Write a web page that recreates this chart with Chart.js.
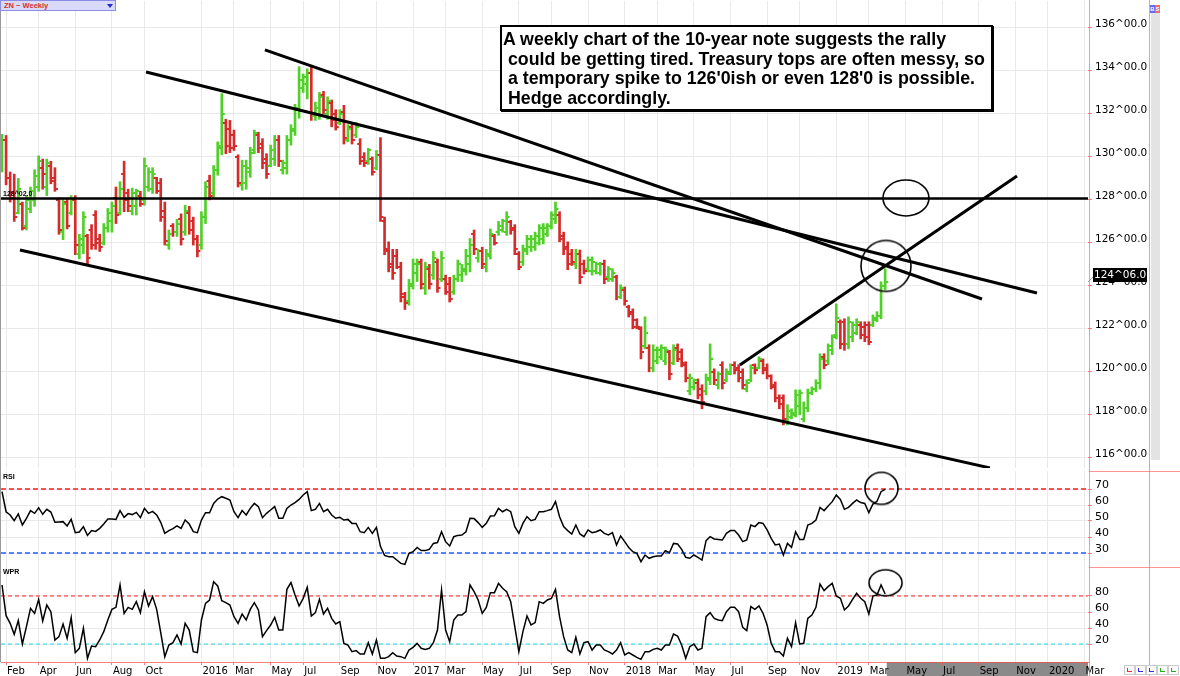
<!DOCTYPE html>
<html>
<head>
<meta charset="utf-8">
<script src="https://cdn.jsdelivr.net/npm/chart.js@4.4.1/dist/chart.umd.min.js"></script>
<style>
  html, body { margin: 0; padding: 0; }
  body { width: 1180px; height: 676px; overflow: hidden; position: relative; background: #fff; font-family: "DejaVu Sans", sans-serif; }
  canvas { position: absolute; left: 0; }
  #main { top: 0; }
  #rsi { top: 470px; }
  #wpr { top: 567px; }
  .line { position: absolute; }
  .pink { background: rgba(255, 90, 90, 0.65); }
  .tag { position: absolute; left: 3px; font: bold 7px "Liberation Sans", Arial, sans-serif; color: #000; }
  #zn { position: absolute; left: 0; top: 0; width: 114px; height: 9px; background: #d9d9fa; border: 1px solid #8c8ce6; }
  #zn span { position: absolute; left: 3px; top: 0; font: bold 7.5px/9px "Liberation Sans", Arial, sans-serif; color: #d83030; }
  #zn i { position: absolute; left: 106px; top: 3px; width: 0; height: 0; border-left: 3px solid transparent; border-right: 3px solid transparent; border-top: 4px solid #2828d0; }
  #note { position: absolute; left: 500px; top: 25px; width: 493px; height: 86px; box-sizing: border-box; border: 2px solid #000; box-shadow: 1px 1px 0 #000; background: #fff; padding: 3px 0 0 1px; font: bold 17.8px/19.7px "Liberation Sans", Arial, sans-serif; color: #000; white-space: pre; }
  #scroll { position: absolute; left: 1151px; top: 13px; width: 9px; height: 447px; background: #e3e3e3; }
  #bs { position: absolute; left: 1150px; top: 5px; width: 10px; height: 8px; font: bold 6px/8px "Liberation Sans", Arial, sans-serif; }
  #bs b { display: inline-block; width: 5px; text-align: center; color: #fff; }
  .ico { position: absolute; top: 665px; width: 9px; height: 8px; border: 1px solid #ccc; background: #fafafa; }
  .ico i { position: absolute; left: 2px; top: 2px; width: 4px; height: 3px; border-left: 1px solid; border-bottom: 1px solid; }
</style>
</head>
<body>
<canvas id="main" width="1150" height="470"></canvas>
<canvas id="rsi" width="1150" height="97"></canvas>
<canvas id="wpr" width="1150" height="109"></canvas>

<div class="line" style="left:0;top:0;width:1px;height:662px;background:#999"></div>
<div class="line pink" style="left:1089px;top:0;width:1px;height:676px"></div>
<div class="line pink" style="left:1149px;top:0;width:1px;height:676px"></div>
<div class="line pink" style="left:1089px;top:471px;width:91px;height:1px"></div>
<div class="line pink" style="left:1089px;top:567px;width:91px;height:1px"></div>
<div id="zn"><span>ZN ~ Weekly</span><i></i></div>
<div id="note">A weekly chart of the 10-year note suggests the rally
 could be getting tired. Treasury tops are often messy, so
 a temporary spike to 126'0ish or even 128'0 is possible.
 Hedge accordingly.</div>
<div class="tag" style="top:473px">RSI</div>
<div class="tag" style="top:568px">WPR</div>
<div id="scroll"></div>
<div id="bs"><b style="background:#6a6af0">B</b><b style="background:#f06a6a">S</b></div>
<div class="ico" style="left:1124px"><i style="color:#e03030"></i></div>
<div class="ico" style="left:1135px"><i style="color:#3030e0"></i></div>
<div class="ico" style="left:1146px"><i style="color:#3030e0"></i></div>
<div class="ico" style="left:1157px"><i style="color:#20b020"></i></div>
<div class="ico" style="left:1168px"><i style="color:#20b020"></i></div>

<script>
// weekly bars, week 0 = last week of Jan 2015, week 217 = last week of Mar 2019
const opens = [
  129.6,130.8,129.0,128.3,127.4,127.8,126.8,127.6,128.0,128.6,
  129.5,128.6,129.6,129.0,128.0,126.5,127.9,127.4,128.0,125.5,
  125.9,126.3,126.6,127.3,126.2,126.0,126.7,127.0,128.1,127.4,
  129.2,128.3,127.5,127.7,128.2,128.0,128.6,128.5,129.0,128.8,
  127.5,125.9,126.8,126.5,127.1,126.5,127.4,127.0,126.2,125.9,
  127.2,128.9,128.3,129.4,130.4,131.6,131.3,131.0,130.0,128.7,
  128.8,129.3,130.3,131.0,130.6,129.9,129.6,129.9,130.8,129.4,
  129.5,130.8,131.2,132.3,133.2,133.4,133.9,131.9,132.0,132.9,
  132.0,132.5,132.0,131.6,132.1,130.8,131.4,131.0,130.6,130.0,
  129.8,129.9,129.5,130.1,127.0,125.6,125.0,125.4,124.9,123.5,
  123.3,124.0,124.6,125.1,123.9,124.8,124.5,125.1,124.3,124.3,
  124.1,123.7,124.3,124.5,124.7,125.0,126.4,125.3,125.6,124.9,
  125.4,126.3,126.5,126.6,126.5,126.95,126.7,125.5,125.1,125.6,
  125.8,125.8,126.0,126.2,126.4,126.8,127.1,127.3,126.3,125.8,
  125.5,125.0,125.5,125.0,124.8,124.7,124.7,124.6,125.0,124.4,
  124.3,124.4,123.5,123.8,123.0,122.8,122.4,122.0,121.2,121.1,
  120.2,120.5,120.7,120.5,120.9,120.4,121.1,120.9,120.3,119.1,
  119.3,119.5,119.2,119.1,119.6,120.0,119.4,120.3,119.6,119.9,
  120.3,120.2,120.0,119.2,119.6,120.3,120.2,120.5,120.2,119.8,
  119.4,118.8,118.8,117.7,117.9,118.0,118.4,117.8,118.3,119.0,
  119.2,119.5,120.7,120.5,121.0,121.7,122.3,122.3,121.3,121.6,
  121.8,122.2,122.1,122.2,122.2,122.4,122.6,124.0
];
const highs = [
  131.05,131.0,129.3,129.2,129.0,127.9,128.2,128.6,129.4,130.05,
  129.9,129.9,129.8,129.5,128.1,128.05,128.05,128.2,128.2,126.4,
  127.45,126.4,126.85,127.5,126.4,126.9,127.6,127.9,128.6,128.85,
  129.8,128.5,128.55,128.5,128.4,129.95,129.5,129.5,129.05,129.0,
  127.9,126.6,126.9,127.1,127.35,127.75,127.7,127.2,126.35,127.45,
  128.85,129.15,129.6,130.7,132.95,131.75,131.7,131.25,130.1,129.85,
  129.85,130.45,131.25,131.15,130.85,130.15,130.55,131.0,131.0,129.85,
  131.0,131.5,132.45,134.2,133.86,134.1,134.2,132.55,133.0,133.05,
  132.8,132.65,132.2,132.2,132.4,131.5,131.55,131.6,130.85,130.2,
  130.4,130.0,130.3,130.9,127.2,126.05,125.7,125.7,125.1,123.7,
  124.3,125.25,125.25,125.25,125.1,125.0,125.6,125.25,125.6,124.5,
  124.4,124.5,125.2,125.0,125.7,126.2,126.6,125.7,125.8,125.7,
  126.65,126.4,127.0,127.1,127.45,127.05,126.85,125.6,125.9,126.35,
  126.35,126.5,126.85,126.9,126.9,127.45,127.9,127.45,126.5,126.05,
  125.7,125.7,125.67,125.2,125.35,125.35,125.1,125.1,125.2,124.9,
  124.8,124.5,124.05,123.95,123.1,122.93,122.47,122.1,122.56,121.26,
  121.26,121.16,121.26,121.16,121.0,121.26,121.3,121.07,120.47,119.9,
  119.67,119.67,119.4,119.9,121.3,120.14,120.0,120.47,120.14,120.37,
  120.47,120.33,120.14,119.63,120.33,120.37,120.7,120.6,120.37,119.86,
  119.53,118.93,118.93,118.47,118.28,119.16,119.16,118.6,119.2,119.3,
  119.63,120.84,120.84,121.3,121.72,123.16,122.42,122.47,122.56,122.33,
  122.47,122.33,122.33,122.33,122.65,122.8,124.19,124.8
];
const lows = [
  129.3,128.7,127.9,127.0,127.35,126.6,126.6,127.4,127.7,128.4,
  128.5,128.2,128.75,128.4,126.4,126.15,126.65,127.3,125.45,125.25,
  125.5,124.97,125.7,125.7,125.6,125.9,126.5,126.5,126.9,127.3,
  127.45,127.45,127.3,127.3,127.7,127.75,128.4,128.3,128.3,127.0,
  125.9,125.7,126.3,126.3,125.9,126.35,126.4,125.9,125.35,125.7,
  126.9,128.0,128.1,129.15,130.1,130.15,130.2,130.3,128.6,128.45,
  128.5,129.05,130.15,130.2,129.45,129.0,129.55,129.6,129.55,129.2,
  129.2,130.55,131.0,131.8,133.0,132.7,131.7,131.7,131.75,132.0,
  131.75,131.4,131.25,131.5,130.6,130.7,130.6,130.9,129.65,129.55,
  129.65,129.15,129.4,127.0,125.45,124.65,124.3,124.8,123.25,122.9,
  123.1,123.85,124.2,123.85,123.6,123.85,124.3,123.7,124.2,123.6,
  123.25,123.6,124.2,124.2,124.5,124.65,125.45,125.1,124.8,124.65,
  125.25,125.9,126.35,126.5,126.35,126.4,125.45,124.75,124.95,125.45,
  125.6,125.65,125.9,125.95,126.3,126.65,126.9,126.05,125.45,124.75,
  124.95,124.8,124.1,124.55,124.65,124.5,124.55,124.5,124.1,124.2,
  124.2,123.35,123.4,123.1,122.55,122.0,122.0,120.6,121.07,120.0,
  120.0,120.37,120.56,120.33,119.63,120.33,120.47,120.23,119.53,118.93,
  119.16,118.74,118.28,118.93,119.4,119.4,119.2,119.2,119.53,119.86,
  119.9,119.53,119.2,119.07,119.53,119.9,120.14,119.9,119.67,119.2,
  118.6,118.28,117.53,117.53,117.81,117.9,118.0,117.67,118.14,118.93,
  119.07,119.2,120.14,120.33,120.8,121.53,121.07,121.0,121.07,121.4,
  121.72,121.53,121.4,121.26,122.1,122.33,122.47,123.81
];
const closes = [
  130.8,129.0,128.1,127.2,128.5,126.7,128.0,128.4,129.1,129.8,
  129.2,129.7,128.9,128.5,126.6,127.8,126.8,128.0,125.9,126.2,
  127.2,125.3,125.9,126.0,125.8,126.7,127.4,127.7,127.3,128.5,
  128.0,127.7,128.3,128.4,127.8,129.6,129.3,129.2,128.4,127.2,
  126.1,126.4,126.5,126.9,126.2,127.5,126.6,126.2,125.6,127.2,
  128.6,128.2,129.4,130.5,132.0,130.5,130.4,130.5,128.8,129.6,
  129.5,130.2,131.1,130.4,129.7,129.2,130.3,130.8,129.8,129.7,
  130.8,131.3,132.2,133.6,133.7,133.9,132.0,132.3,132.8,132.2,
  132.6,131.7,131.4,132.0,130.9,131.3,130.8,131.4,129.8,129.7,
  130.3,129.3,130.1,127.2,125.7,124.9,124.6,124.9,123.6,123.2,
  124.1,125.0,125.0,124.1,124.9,124.1,125.3,123.9,125.3,123.7,
  123.4,124.3,125.0,124.8,125.4,125.9,125.7,125.6,125.0,125.5,
  126.4,126.0,126.8,127.0,127.2,126.6,125.7,124.9,125.7,126.2,
  126.2,126.3,126.7,126.7,126.8,127.3,127.6,126.2,125.7,125.0,
  125.1,125.5,124.4,124.7,125.2,125.1,125.0,125.0,124.3,124.8,
  124.6,123.5,123.9,123.3,122.7,122.1,122.1,120.9,121.8,120.2,
  121.0,121.0,121.1,121.0,119.9,121.0,120.6,120.4,119.7,119.7,
  119.6,118.9,118.6,119.7,120.6,119.6,119.9,119.5,120.0,120.3,
  120.1,119.7,119.4,119.5,120.2,120.1,120.6,120.1,119.8,119.3,
  118.8,118.5,117.8,118.2,118.1,118.9,119.0,118.3,119.0,119.2,
  119.5,120.6,120.3,121.2,121.6,122.5,121.3,121.3,122.3,122.2,
  122.3,121.7,121.6,121.4,122.5,122.6,124.0,124.1875
];
const rsi = [
  68.3,55.8,53.75,50.2,54.4,47.5,51.7,56.5,54.8,58.3,
  54.2,57.3,55.6,49.2,49.4,49.6,46.9,51.0,42.7,43.1,
  46.5,41.0,44.0,43.5,45.4,48.1,51.25,51.25,51.0,56.5,
  52.3,54.6,54.0,55.4,52.1,57.9,54.8,56.0,53.75,49.2,
  42.3,44.0,45.2,46.9,45.4,50.6,48.1,43.3,42.7,50.6,
  55.2,55.2,61.0,63.75,65.2,64.2,63.1,55.8,52.1,56.5,
  53.75,57.9,61.0,59.0,52.1,54.8,56.9,59.0,51.7,51.7,
  57.9,60.0,61.5,63.5,66.25,68.3,56.5,57.3,61.0,55.8,
  57.3,53.75,51.7,52.3,50.6,51.0,48.5,48.5,43.3,42.7,
  46.0,42.3,46.0,34.0,28.5,27.7,27.7,25.6,23.5,22.9,
  29.8,30.8,33.5,31.5,31.5,32.3,36.0,36.5,43.3,37.1,
  34.4,40.2,41.0,41.25,43.3,51.7,51.5,49.0,46.0,48.5,
  53.1,53.3,57.9,55.8,57.3,55.8,46.5,42.3,48.5,52.7,
  50.2,51.0,55.8,55.8,56.5,57.3,62.1,52.7,46.5,44.0,
  41.9,47.5,41.9,40.2,44.4,42.7,43.3,44.4,42.3,41.25,
  42.7,35.0,40.6,37.1,33.5,30.8,29.8,24.6,28.75,26.7,
  27.7,28.1,28.1,31.5,30.2,36.0,35.6,32.3,27.3,26.7,
  28.75,27.3,25.6,37.7,40.2,38.75,38.5,38.1,42.3,44.0,
  44.0,41.25,37.1,38.1,47.5,46.5,49.0,48.5,44.4,39.2,
  35.0,35.6,28.75,36.0,33.5,43.3,38.5,38.5,47.5,48.5,
  50.6,58.5,56.5,59.4,62.1,66.25,63.5,57.3,58.5,61.0,
  63.1,61.5,61.0,55.2,60.6,62.3,68.3,69.8
];
const wpr = [
  93.75,55.4,45.8,32.1,49.2,20.0,41.7,64.6,58.3,75.8,
  48.75,68.75,60.4,25.0,29.2,45.0,27.1,52.9,9.2,14.6,
  39.6,2.1,17.5,16.7,25.0,35.4,50.0,63.3,65.8,93.75,
  58.3,65.8,63.3,72.9,59.2,85.4,67.5,79.2,63.3,34.2,
  4.2,18.75,21.7,31.25,20.0,45.8,37.5,10.4,9.2,50.0,
  70.8,75.0,97.9,92.5,74.2,71.7,68.75,54.2,45.8,57.5,
  50.0,63.3,71.7,62.5,29.2,36.7,43.75,53.3,37.5,37.5,
  88.3,96.7,81.25,67.5,77.1,90.8,55.0,59.2,75.8,57.5,
  64.6,52.1,45.0,47.9,20.8,18.75,10.4,11.7,7.5,7.5,
  21.7,7.5,25.0,2.1,2.1,4.2,9.2,5.0,4.2,2.1,
  12.5,15.8,20.8,14.6,13.3,14.6,21.7,37.5,87.5,37.5,
  22.9,50.0,56.25,56.25,60.4,93.75,85.4,75.0,58.3,65.8,
  84.2,84.2,95.8,89.6,85.4,72.9,41.7,10.4,35.4,55.0,
  43.75,46.7,72.9,70.8,75.0,77.1,88.3,54.2,29.2,12.5,
  9.2,28.3,7.5,21.7,22.9,12.5,18.75,18.75,12.5,10.4,
  7.5,12.5,21.7,6.25,9.2,6.25,3.3,0.8,10.4,10.4,
  13.3,14.6,12.5,18.75,18.75,32.5,30.0,18.75,2.1,16.7,
  20.0,12.5,14.6,54.2,59.2,52.1,50.0,49.2,60.4,65.8,
  65.8,60.4,40.8,36.7,66.7,63.3,67.5,58.3,43.75,20.8,
  10.4,10.4,5.0,27.1,16.7,46.7,20.0,20.8,52.1,56.25,
  65.8,95.0,86.7,91.7,95.8,80.0,77.1,62.5,67.5,75.8,
  83.3,77.1,72.9,57.5,80.0,81.25,93.75,82.5
];

// month ticks: week index of the first bar of the month
const tickWeeks = [1, 9, 18, 27, 35, 49, 57, 66, 74, 83, 92, 101, 109, 118, 127, 135, 144, 153, 161, 170, 179, 188, 196, 205, 213, 222, 231, 240, 249, 257, 266];
const tickLabels = ['Feb', 'Apr', 'Jun', 'Aug', 'Oct', '2016', 'Mar', 'May', 'Jul', 'Sep', 'Nov', '2017', 'Mar', 'May', 'Jul', 'Sep', 'Nov', '2018', 'Mar', 'May', 'Jul', 'Sep', 'Nov', '2019', 'Mar', 'May', 'Jul', 'Sep', 'Nov', '2020', 'Mar'];
const priceTicks = [116, 118, 120, 122, 124, 126, 128, 130, 132, 134, 136];
const rsiTicks = [30, 40, 50, 60, 70];
const wprTicks = [20, 40, 60, 80];
const rsiLevels = [70, 30];
const wprLevels = [80, 20];

// hand drawn studies, [week, price] end points
const channelLow = [[4.4, 125.67], [242.75, 115.53]];
const fallingA = [[35.4, 133.95], [254.3, 123.67]];
const fallingB = [[64.6, 134.98], [240.8, 123.39]];
const risingLine = [[181.3, 120.32], [249.4, 129.11]];
const levelPrice = 128.0625;
const bigCircle = [217.2, 124.93];
const smallCircle = [222.1, 128.09];
const rsiCircle = [216.1, 70.4];
const wprCircle = [217.1, 96.5];

const X_MIN = -0.25, X_MAX = 266.85;
const UP = '#52d02a', DOWN = '#d62b2b';
const PINK = 'rgba(255,70,70,0.7)';
const GRID = '#e9e9e9';

Chart.defaults.font.family = '"DejaVu Sans", sans-serif';
Chart.defaults.color = '#000';

const weeks = closes.map((c, i) => i);
const isUp = closes.map((c, i) => c >= opens[i]);

function fmt32(v) {
  const whole = Math.floor(v);
  const n = Math.round((v - whole) * 32);
  return whole + '^' + String(n).padStart(2, '0') + '.0';
}

// small canvases used as point styles
function tickMark(color, left) {
  const c = document.createElement('canvas');
  c.width = 8; c.height = 2;
  const g = c.getContext('2d');
  g.fillStyle = color;
  g.fillRect(left ? 1 : 4, 0, 3, 2);
  return c;
}
function ellipseMark(rx, ry) {
  const c = document.createElement('canvas');
  c.width = Math.ceil(rx * 2 + 4); c.height = Math.ceil(ry * 2 + 4);
  const g = c.getContext('2d');
  g.strokeStyle = '#000'; g.lineWidth = 1.6;
  g.beginPath();
  g.ellipse(c.width / 2, c.height / 2, rx, ry, 0, 0, Math.PI * 2);
  g.stroke();
  return c;
}
const openUp = tickMark(UP, true), openDown = tickMark(DOWN, true);
const closeUp = tickMark(UP, false), closeDown = tickMark(DOWN, false);

function xAxis(showLabels) {
  return {
    type: 'linear', min: X_MIN, max: X_MAX, offset: false,
    afterBuildTicks: s => { s.ticks = tickWeeks.map(v => ({ value: v })); },
    afterFit: s => {
      if (showLabels) s.height = 14;
      s.paddingLeft = 0; s.paddingRight = 0;
    },
    grid: { color: GRID, offset: false, drawTicks: showLabels, tickLength: 3, tickColor: PINK },
    border: { display: showLabels, color: PINK },
    ticks: {
      display: showLabels, autoSkip: false, maxRotation: 0, align: 'start', labelOffset: 1, padding: 0,
      font: { size: 10 }, callback: v => tickLabels[tickWeeks.indexOf(v)]
    }
  };
}
function yAxis(min, max, ticks, size, fmt) {
  return {
    position: 'right', min, max,
    afterBuildTicks: s => { s.ticks = ticks.map(v => ({ value: v })); },
    // fixed axis width, and no extra room reserved for the end labels
    afterFit: s => { s.width = 62; s.paddingTop = 0; s.paddingBottom = 0; },
    grid: { color: GRID, drawTicks: true, tickLength: 4, tickColor: PINK },
    border: { display: false },
    ticks: { padding: 3, labelOffset: -4, font: { size }, callback: fmt }
  };
}
function segment(pts, width) {
  return {
    type: 'line', data: pts.map(p => ({ x: p[0], y: p[1] })),
    borderColor: '#000', borderWidth: width, pointRadius: 0, tension: 0
  };
}
function levelLine(v, color, width, dash) {
  return {
    type: 'line', data: [{ x: X_MIN, y: v }, { x: X_MAX, y: v }],
    borderColor: color, borderWidth: width, borderDash: dash, pointRadius: 0
  };
}
function circle(pt, rx, ry) {
  return {
    type: 'line', data: [{ x: pt[0], y: pt[1] }], showLine: false,
    pointStyle: ellipseMark(rx, ry), pointRadius: 2
  };
}
const baseOptions = {
  responsive: false, animation: false, events: [], devicePixelRatio: 1,
  plugins: { legend: { display: false }, tooltip: { enabled: false } }
};
function layoutPad(top, bottom) {
  return { autoPadding: false, padding: { left: 1, top, bottom, right: 0 } };
}

// last price flag and the level label on the price panel
const priceFlags = {
  id: 'priceFlags',
  afterDraw(chart) {
    const { ctx, chartArea: a, scales: { y } } = chart;
    ctx.save();
    const ly = y.getPixelForValue(levelPrice);
    ctx.font = 'bold 7px "Liberation Sans", Arial, sans-serif';
    ctx.fillStyle = '#000';
    ctx.textBaseline = 'bottom';
    ctx.fillText(fmt32(levelPrice), a.left + 2, ly - 1);

    const last = closes[closes.length - 1];
    const py = Math.round(y.getPixelForValue(last));
    ctx.strokeStyle = '#999'; ctx.lineWidth = 1;
    ctx.beginPath(); ctx.moveTo(a.right, py); ctx.lineTo(a.right + 6, py - 6); ctx.stroke();
    ctx.fillStyle = '#000';
    ctx.fillRect(a.right + 5, py - 14, 54, 14);
    ctx.fillStyle = '#fff';
    ctx.font = '10.5px "DejaVu Sans", sans-serif';
    ctx.textBaseline = 'middle';
    ctx.fillText(fmt32(last), a.right + 6, py - 7);
    ctx.restore();
  }
};

new Chart(document.getElementById('main'), {
  type: 'line',
  data: {
    datasets: [
      circle(bigCircle, 25, 25.5),
      circle(smallCircle, 23, 18),
      segment(fallingA, 3),
      segment(fallingB, 3),
      segment(channelLow, 3),
      segment(risingLine, 3),
      segment([[X_MIN, levelPrice], [X_MAX, levelPrice]], 2.5),
      {
        type: 'line', showLine: false, pointRadius: 2,
        data: weeks.map(i => ({ x: i, y: opens[i] })),
        pointStyle: weeks.map(i => isUp[i] ? openUp : openDown)
      },
      {
        type: 'line', showLine: false, pointRadius: 2,
        data: weeks.map(i => ({ x: i, y: closes[i] })),
        pointStyle: weeks.map(i => isUp[i] ? closeUp : closeDown)
      },
      {
        type: 'bar', barThickness: 2, borderWidth: 0,
        data: weeks.map(i => ({ x: i, y: [lows[i], highs[i]] })),
        backgroundColor: weeks.map(i => isUp[i] ? UP : DOWN)
      }
    ]
  },
  options: {
    ...baseOptions,
    layout: layoutPad(1, 2),
    scales: {
      x: xAxis(false),
      y: yAxis(115.525, 137.256, priceTicks, 10.5, v => fmt32(v))
    }
  },
  plugins: [priceFlags]
});

new Chart(document.getElementById('rsi'), {
  type: 'line',
  data: {
    datasets: [
      circle(rsiCircle, 16.5, 16),
      { data: weeks.map(i => ({ x: i, y: rsi[i] })), borderColor: '#000', borderWidth: 1.5, pointRadius: 0, tension: 0 },
      levelLine(rsiLevels[0], '#ff1a1a', 1.6, [5, 3]),
      levelLine(rsiLevels[1], '#1f5fff', 1.6, [5, 3])
    ]
  },
  options: {
    ...baseOptions,
    layout: layoutPad(1, 0),
    scales: {
      x: xAxis(false),
      y: yAxis(21.25, 81.25, rsiTicks, 11, v => v)
    }
  }
});

// grey band under the empty future part of the time axis
const futureBand = {
  id: 'futureBand',
  beforeDraw(chart) {
    const { ctx, chartArea: a, scales: { x } } = chart;
    const x0 = x.getPixelForValue(weeks.length - 0.6);
    ctx.save();
    ctx.fillStyle = '#8a8a8a';
    ctx.fillRect(x0, a.bottom, x.getPixelForValue(X_MAX) - x0, chart.height - a.bottom);
    ctx.restore();
  }
};

new Chart(document.getElementById('wpr'), {
  type: 'line',
  data: {
    datasets: [
      circle(wprCircle, 16.5, 13),
      { data: weeks.map(i => ({ x: i, y: wpr[i] })), borderColor: '#000', borderWidth: 1.5, pointRadius: 0, tension: 0 },
      levelLine(wprLevels[0], '#ff2020', 1.2, [4, 3]),
      levelLine(wprLevels[1], '#22dde6', 1.2, [4, 3])
    ]
  },
  options: {
    ...baseOptions,
    layout: layoutPad(0, 0),
    scales: {
      x: xAxis(true),
      y: yAxis(-2.5, 116.25, wprTicks, 11, v => v)
    }
  },
  plugins: [futureBand]
});
</script>
</body>
</html>
